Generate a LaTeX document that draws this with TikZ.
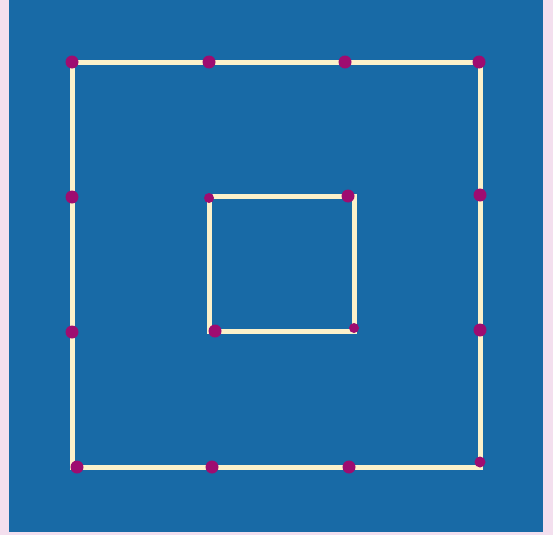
\documentclass[tikz,border=0pt]{standalone}
\usetikzlibrary{calc}
\definecolor{fond}{RGB}{243,223,238}
\definecolor{tapis}{RGB}{24,106,166}
\definecolor{bois}{RGB}{252,241,202}
\definecolor{souffre}{RGB}{158,12,112}
\tikzset{
  allumette/.style={draw=bois, line width=5pt, line cap=rect},
  tete/.style={fill=souffre},
}
\begin{document}
\begin{tikzpicture}[x=1pt, y=-1pt]
  % Fond rose et tapis bleu
  \fill[fond] (0,0) rectangle (553,535);
  \useasboundingbox (0,0) rectangle (553,535);
  \fill[tapis] (9,0) rectangle (543,532);

  % Grille du grand carre
  \foreach \i/\x in {0/72,1/208,2/344,3/480}
    \foreach \j/\y in {0/62,1/197,2/332,3/467}
      \coordinate (o\i\j) at (\x,\y);
  % Coins du petit carre
  \coordinate (i0) at (209,196);
  \coordinate (i1) at (354,196);
  \coordinate (i2) at (354,331);
  \coordinate (i3) at (209,331);

  % Allumettes (tete au bout d'arrivee)
  \foreach \a/\b in {o00/o10,o10/o20,o20/o30,
                     o30/o31,o31/o32,o32/o33,
                     o33/o23,o23/o13,o13/o03,
                     o03/o02,o02/o01,o01/o00,
                     i0/i1,i1/i2,i2/i3,i3/i0}
    \draw[allumette] (\a) -- (\b);
  % Tetes : recul depuis le bout, taille
  \foreach \a/\b/\d/\r in {o00/o10/-1/6.5,o10/o20/-1/6.5,o20/o30/1/6.5,
                           o30/o31/2/6.5,o31/o32/2/6.5,o32/o33/5/5.5,
                           o33/o23/5/6.5,o23/o13/4/6.5,o13/o03/5/6.5,
                           o03/o02/0/6.5,o02/o01/0/6.5,o01/o00/0/6.5,
                           i0/i1/6/6.5,i1/i2/3/5,i2/i3/6/6.5,i3/i0/2/5}
    \fill[tete] ($(\b)!\d pt!(\a)$) circle (\r pt);
\end{tikzpicture}
\end{document}
